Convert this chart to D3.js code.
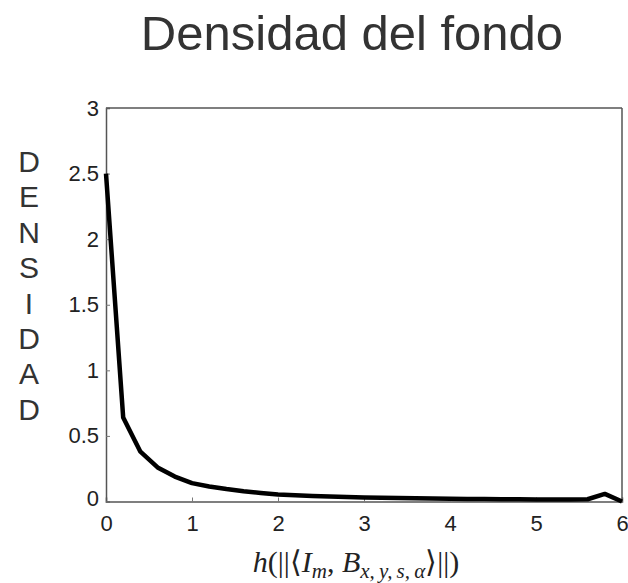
<!DOCTYPE html>
<html>
<head>
<meta charset="utf-8">
<script src="https://cdn.jsdelivr.net/npm/d3@7"></script>
<style>
  html, body { margin: 0; padding: 0; background: #fff; }
  svg { display: block; }
</style>
</head>
<body>
<svg id="chart" width="628" height="583"></svg>
<script>
// Background density estimate sampled every 0.2 units
const xValues = [0, 0.2, 0.4, 0.6, 0.8, 1.0, 1.2, 1.4, 1.6, 1.8, 2.0,
                 2.2, 2.4, 2.6, 2.8, 3.0, 3.2, 3.4, 3.6, 3.8, 4.0,
                 4.2, 4.4, 4.6, 4.8, 5.0, 5.2, 5.4, 5.6, 5.8, 6.0];
const densityValues = [2.5, 0.64, 0.38, 0.26, 0.19, 0.14, 0.115, 0.095, 0.078, 0.065, 0.054,
                       0.047, 0.042, 0.038, 0.034, 0.031, 0.028, 0.026, 0.024, 0.022, 0.021,
                       0.020, 0.019, 0.018, 0.017, 0.016, 0.016, 0.015, 0.017, 0.058, 0.0];
const xTicks = [0, 1, 2, 3, 4, 5, 6];
const yTicks = [0, 0.5, 1, 1.5, 2, 2.5, 3];
const yTickLabels = ["0", "0.5", "1", "1.5", "2", "2.5", "3"];
const titleText = "Densidad del fondo";
const yLabelLetters = ["D", "E", "N", "S", "I", "D", "A", "D"];

const svg = d3.select("#chart");
const margin = { left: 106, right: 6, top: 108, bottom: 81.5 };
const W = 628, H = 583;

const x = d3.scaleLinear().domain([0, 6]).range([margin.left, W - margin.right]);
const y = d3.scaleLinear().domain([0, 3]).range([H - margin.bottom, margin.top]);

const axisColor = "#555";
const labelFont = "'Liberation Sans', Arial, sans-serif";

// Title
svg.append("text")
  .attr("x", 352).attr("y", 50)
  .attr("text-anchor", "middle")
  .attr("font-family", labelFont)
  .attr("font-size", 49)
  .attr("fill", "#333")
  .text(titleText);

// Bottom axis with inward ticks
const xAxis = d3.axisBottom(x).tickValues(xTicks).tickSize(-4).tickPadding(14)
  .tickFormat(d3.format("d"));
const gx = svg.append("g").attr("transform", `translate(0,${y(0)})`).call(xAxis);

// Left axis with inward ticks
const yAxis = d3.axisLeft(y).tickValues(yTicks).tickSize(-4).tickPadding(7)
  .tickFormat((d, i) => yTickLabels[i]);
const gy = svg.append("g").attr("transform", `translate(${x(0)},0)`).call(yAxis);

[gx, gy].forEach(g => {
  g.select(".domain").attr("stroke", axisColor).attr("stroke-width", 1.5);
  g.selectAll(".tick line").attr("stroke", "#777").attr("stroke-width", 1);
  g.selectAll(".tick text")
    .attr("font-family", labelFont)
    .attr("font-size", 22)
    .attr("fill", "#222");
});
gy.select(".tick:first-of-type text").attr("dy", "0.2em");

// Top and right box edges
svg.append("line")
  .attr("x1", x(0)).attr("x2", x(6)).attr("y1", y(3)).attr("y2", y(3))
  .attr("stroke", axisColor).attr("stroke-width", 1.5);
svg.append("line")
  .attr("x1", x(6)).attr("x2", x(6)).attr("y1", y(3)).attr("y2", y(0))
  .attr("stroke", axisColor).attr("stroke-width", 1.5);

// Density curve
const line = d3.line().x((d, i) => x(xValues[i])).y(d => y(d));
svg.append("path")
  .datum(densityValues)
  .attr("d", line)
  .attr("fill", "none")
  .attr("stroke", "#000")
  .attr("stroke-width", 4.5)
  .attr("stroke-linejoin", "round");

// Vertical y-axis label, one letter per line
svg.append("g").selectAll("text")
  .data(yLabelLetters)
  .join("text")
  .attr("x", 29)
  .attr("y", (d, i) => 172 + i * 35.4)
  .attr("text-anchor", "middle")
  .attr("font-family", labelFont)
  .attr("font-size", 30)
  .attr("fill", "#333")
  .text(d => d);

// x-axis label: h(||<I_m, B_{x,y,s,alpha}>||)
const xl = svg.append("text")
  .attr("x", 356).attr("y", 572)
  .attr("text-anchor", "middle")
  .attr("font-family", "'Liberation Serif', 'Times New Roman', serif")
  .attr("font-size", 30)
  .attr("fill", "#222");
xl.append("tspan").attr("font-style", "italic").text("h");
xl.append("tspan").text("(||\u27E8");
xl.append("tspan").attr("font-style", "italic").text("I");
xl.append("tspan").attr("font-style", "italic").attr("font-size", 21).attr("dy", 6).text("m");
xl.append("tspan").attr("dy", -6).text(", ");
xl.append("tspan").attr("font-style", "italic").text("B");
xl.append("tspan").attr("font-style", "italic").attr("font-size", 21).attr("dy", 6)
  .text("x,\u2009y,\u2009s,\u2009\u03B1");
xl.append("tspan").attr("dy", -6).text("\u27E9||)");
</script>
</body>
</html>
